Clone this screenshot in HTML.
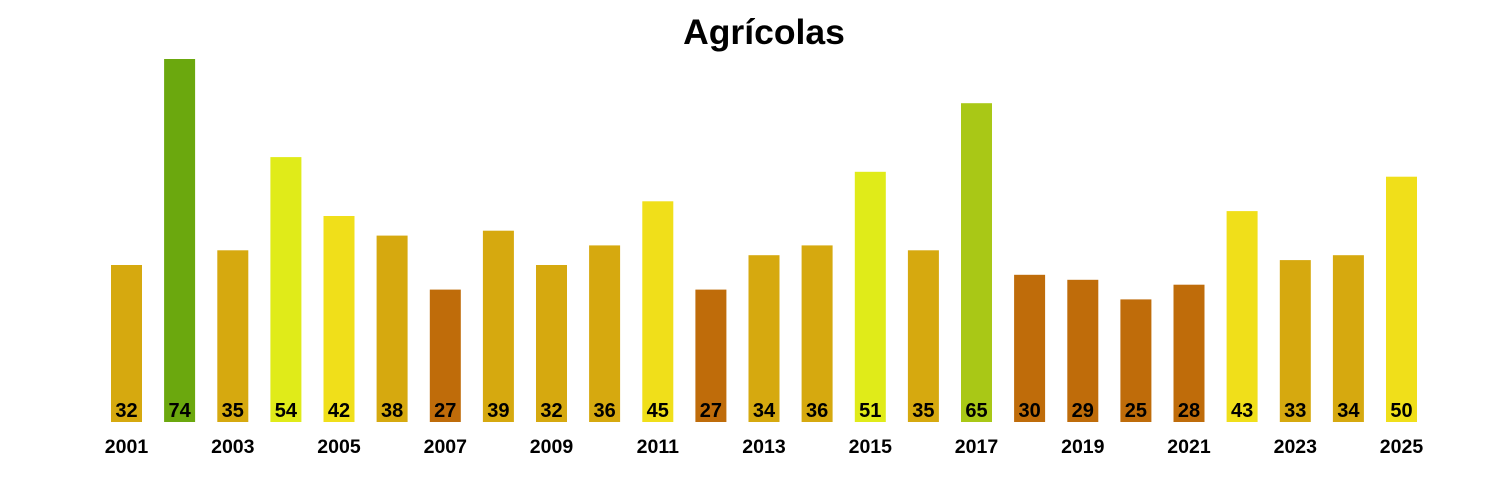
<!DOCTYPE html>
<html><head><meta charset="utf-8"><style>
html,body{margin:0;padding:0;background:#fff;}
svg{display:block;font-family:"Liberation Sans",Arial,sans-serif;font-weight:bold;}
</style></head><body>
<svg width="1500" height="500" viewBox="0 0 1500 500">
<text x="764" y="44" text-anchor="middle" font-size="35.5">Agrícolas</text>
<g>
<rect x="111" y="265" width="31" height="157" fill="#D6A90F"/>
<rect x="164.1" y="59" width="31" height="363" fill="#6BA80E"/>
<rect x="217.3" y="250.3" width="31" height="171.7" fill="#D6A90F"/>
<rect x="270.4" y="157.1" width="31" height="264.9" fill="#E0EB19"/>
<rect x="323.5" y="216" width="31" height="206" fill="#F0DF1A"/>
<rect x="376.6" y="235.6" width="31" height="186.4" fill="#D6A90F"/>
<rect x="429.8" y="289.6" width="31" height="132.4" fill="#BF6C0A"/>
<rect x="482.9" y="230.7" width="31" height="191.3" fill="#D6A90F"/>
<rect x="536" y="265" width="31" height="157" fill="#D6A90F"/>
<rect x="589.1" y="245.4" width="31" height="176.6" fill="#D6A90F"/>
<rect x="642.3" y="201.3" width="31" height="220.7" fill="#F0DF1A"/>
<rect x="695.4" y="289.6" width="31" height="132.4" fill="#BF6C0A"/>
<rect x="748.5" y="255.2" width="31" height="166.8" fill="#D6A90F"/>
<rect x="801.6" y="245.4" width="31" height="176.6" fill="#D6A90F"/>
<rect x="854.8" y="171.8" width="31" height="250.2" fill="#E0EB19"/>
<rect x="907.9" y="250.3" width="31" height="171.7" fill="#D6A90F"/>
<rect x="961" y="103.2" width="31" height="318.8" fill="#A9C816"/>
<rect x="1014.1" y="274.8" width="31" height="147.2" fill="#BF6C0A"/>
<rect x="1067.3" y="279.8" width="31" height="142.2" fill="#BF6C0A"/>
<rect x="1120.4" y="299.4" width="31" height="122.6" fill="#BF6C0A"/>
<rect x="1173.5" y="284.7" width="31" height="137.3" fill="#BF6C0A"/>
<rect x="1226.6" y="211.1" width="31" height="210.9" fill="#F0DF1A"/>
<rect x="1279.8" y="260.1" width="31" height="161.9" fill="#D6A90F"/>
<rect x="1332.9" y="255.2" width="31" height="166.8" fill="#D6A90F"/>
<rect x="1386" y="176.7" width="31" height="245.3" fill="#F0DF1A"/>
</g>
<g font-size="20" text-anchor="middle" fill="#000">
<text x="126.5" y="417">32</text>
<text x="179.6" y="417">74</text>
<text x="232.8" y="417">35</text>
<text x="285.9" y="417">54</text>
<text x="339" y="417">42</text>
<text x="392.1" y="417">38</text>
<text x="445.3" y="417">27</text>
<text x="498.4" y="417">39</text>
<text x="551.5" y="417">32</text>
<text x="604.6" y="417">36</text>
<text x="657.8" y="417">45</text>
<text x="710.9" y="417">27</text>
<text x="764" y="417">34</text>
<text x="817.1" y="417">36</text>
<text x="870.3" y="417">51</text>
<text x="923.4" y="417">35</text>
<text x="976.5" y="417">65</text>
<text x="1029.6" y="417">30</text>
<text x="1082.8" y="417">29</text>
<text x="1135.9" y="417">25</text>
<text x="1189" y="417">28</text>
<text x="1242.1" y="417">43</text>
<text x="1295.3" y="417">33</text>
<text x="1348.4" y="417">34</text>
<text x="1401.5" y="417">50</text>
</g>
<g font-size="19.5" text-anchor="middle" fill="#000">
<text x="126.5" y="453">2001</text>
<text x="232.8" y="453">2003</text>
<text x="339" y="453">2005</text>
<text x="445.3" y="453">2007</text>
<text x="551.5" y="453">2009</text>
<text x="657.8" y="453">2011</text>
<text x="764" y="453">2013</text>
<text x="870.3" y="453">2015</text>
<text x="976.5" y="453">2017</text>
<text x="1082.8" y="453">2019</text>
<text x="1189" y="453">2021</text>
<text x="1295.3" y="453">2023</text>
<text x="1401.5" y="453">2025</text>
</g>
</svg>
</body></html>
